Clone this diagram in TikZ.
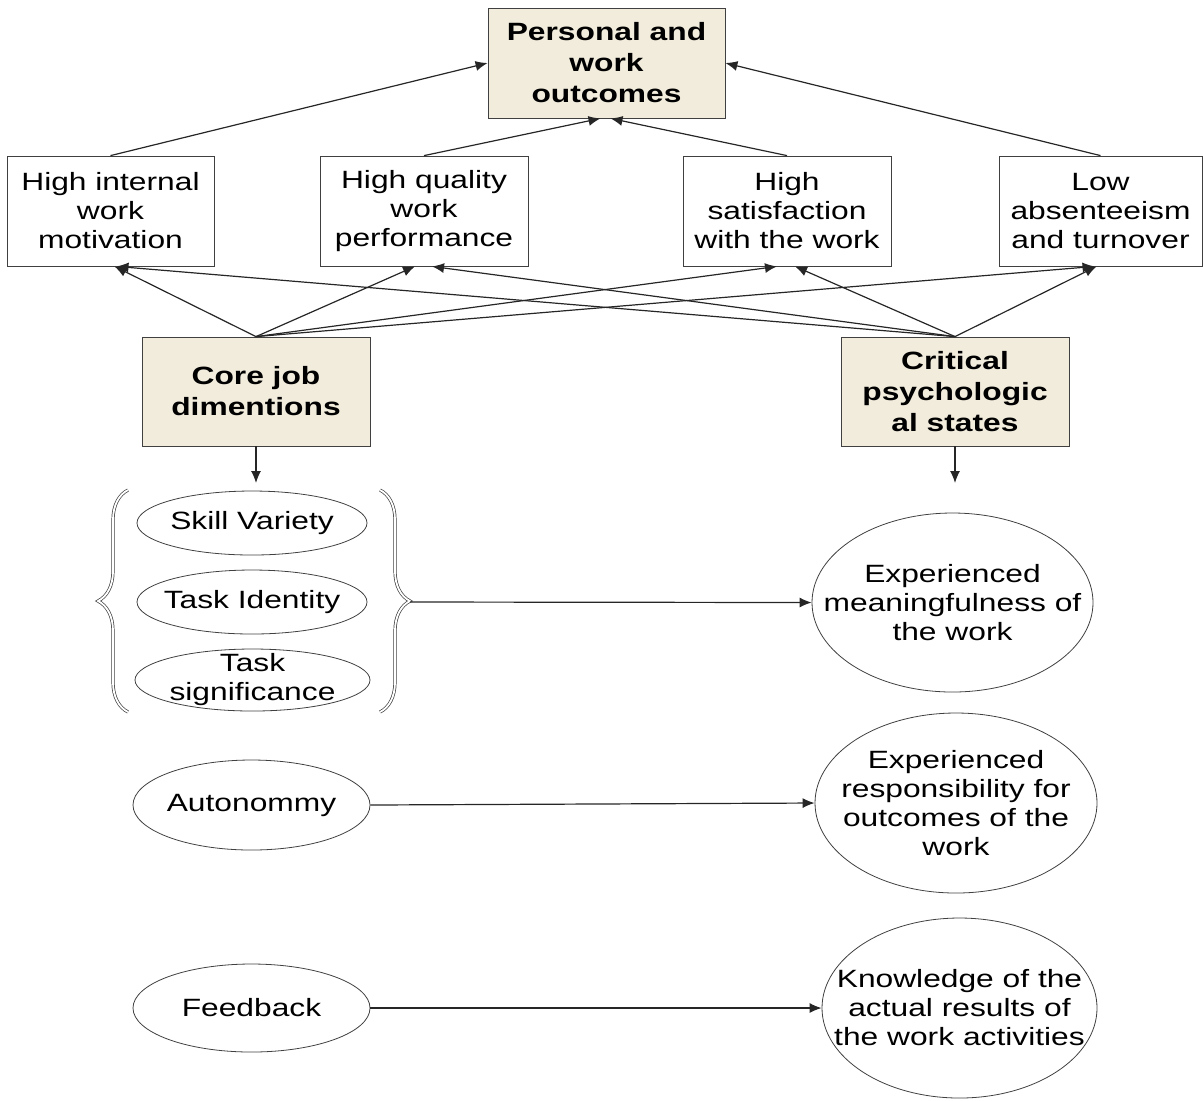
\documentclass[tikz,border=0pt]{standalone}
\usepackage{fontspec}
\setmainfont{Liberation Sans}[FakeStretch=1.27]
\usetikzlibrary{arrows.meta,shapes.geometric,decorations.pathreplacing}
\definecolor{boxfill}{RGB}{242,236,220}
\tikzset{
    txt/.style={align=center, font=\fontsize{12.5}{14.5}\selectfont},
    outbox/.style={txt, draw=black!75, fill=white, minimum width=103.5pt, minimum height=55pt, inner sep=2pt},
    keybox/.style={outbox, fill=boxfill, minimum width=114pt, font=\bfseries\fontsize{12.5}{15.5}\selectfont},
    oval/.style={draw=black!75, ellipse, inner sep=0pt},
    link/.style={draw=black!85, line width=0.6pt, -{Latex[length=6pt,width=5pt]}},
    bracket/.style={draw=black!75, line width=0.35pt, double=white, double distance=0.9pt, decorate}
}
\begin{document}
\begin{tikzpicture}[x=0.5pt,y=-0.5pt]
    \useasboundingbox (0,0) rectangle (1203,1100);
    % outcomes
    \node[keybox, minimum width=118.5pt] (top) at (606.5,63) {Personal and\\work\\outcomes};
    \node[outbox] (A) at (110.5,211) {High internal\\work\\motivation};
    \node[outbox, minimum width=104pt] (B) at (424,211) {High quality\\work\\performance};
    \node[outbox, minimum width=104pt] (C) at (787,211) {High\\satisfaction\\with the work};
    \node[outbox, minimum width=101.5pt] (D) at (1100.5,211) {Low\\absenteeism\\and turnover};
    % the two key boxes
    \node[keybox, minimum height=54.5pt] (core) at (256,391.5) {Core job\\dimentions};
    \node[keybox, minimum height=54.5pt] (crit) at (955,391.5) {Critical\\psychologic\\al states};
    \coordinate (coreend) at (256,483);
    \coordinate (critend) at (955,483);
    % job dimensions
    \node[oval, minimum width=115pt, minimum height=32pt, label={[txt]center:Skill Variety}] (sv) at (252,523) {};
    \node[oval, minimum width=115pt, minimum height=32pt, label={[txt]center:Task Identity}] (ti) at (252,602) {};
    \node[oval, minimum width=117.5pt, minimum height=31pt, label={[txt]center:{Task\\significance}}] (ts) at (252.5,680) {};
    \node[oval, minimum width=118.5pt, minimum height=45pt, label={[txt]center:Autonommy}] (aut) at (251.5,805) {};
    \node[oval, minimum width=118.5pt, minimum height=44pt, label={[txt]center:Feedback}] (fb) at (251.5,1008) {};
    % psychological states
    \node[oval, minimum width=140.5pt, minimum height=89.5pt, label={[txt]center:{Experienced\\meaningfulness of\\the work}}] (mean) at (952.5,602.5) {};
    \node[oval, minimum width=141pt, minimum height=90pt, label={[txt]center:{Experienced\\responsibility for\\outcomes of the\\work}}] (resp) at (956,803) {};
    \node[oval, minimum width=137.5pt, minimum height=90pt, label={[txt]center:{Knowledge of the\\actual results of\\the work activities}}] (know) at (959.5,1008) {};
    % braces
    \draw[bracket, decoration={brace, amplitude=15pt}] (128,712) -- (128,490);
    \draw[bracket, decoration={brace, amplitude=15pt}] (380,490) -- (380,712);
    \coordinate (braceR) at (410,602);
    % arrows to the top
    \draw[link] (A.north) -- (top.west);
    \draw[link] (B.north) -- ([xshift=-3pt]top.south);
    \draw[link] (C.north) -- ([xshift=2pt]top.south);
    \draw[link] (D.north) -- (top.east);
    % arrows from core job dimensions
    \draw[link] (core.north) -- ([xshift=2pt]A.south);
    \draw[link] (core.north) -- ([xshift=-4.5pt]B.south);
    \draw[link] (core.north) -- ([xshift=-5pt]C.south);
    \draw[link] (core.north) -- ([xshift=-3pt]D.south);
    % arrows from critical states
    \draw[link] (crit.north) -- ([xshift=3pt]A.south);
    \draw[link] (crit.north) -- ([xshift=4pt]B.south);
    \draw[link] (crit.north) -- ([xshift=4pt]C.south);
    \draw[link] (crit.north) -- ([xshift=-2pt]D.south);
    % downwards and across
    \draw[link] (core.south) -- (coreend);
    \draw[link] (crit.south) -- (critend);
    \draw[link] (braceR) -- (mean.west);
    \draw[link] (aut.east) -- (resp.west);
    \draw[link] (fb.east) -- (know.west);
\end{tikzpicture}
\end{document}
